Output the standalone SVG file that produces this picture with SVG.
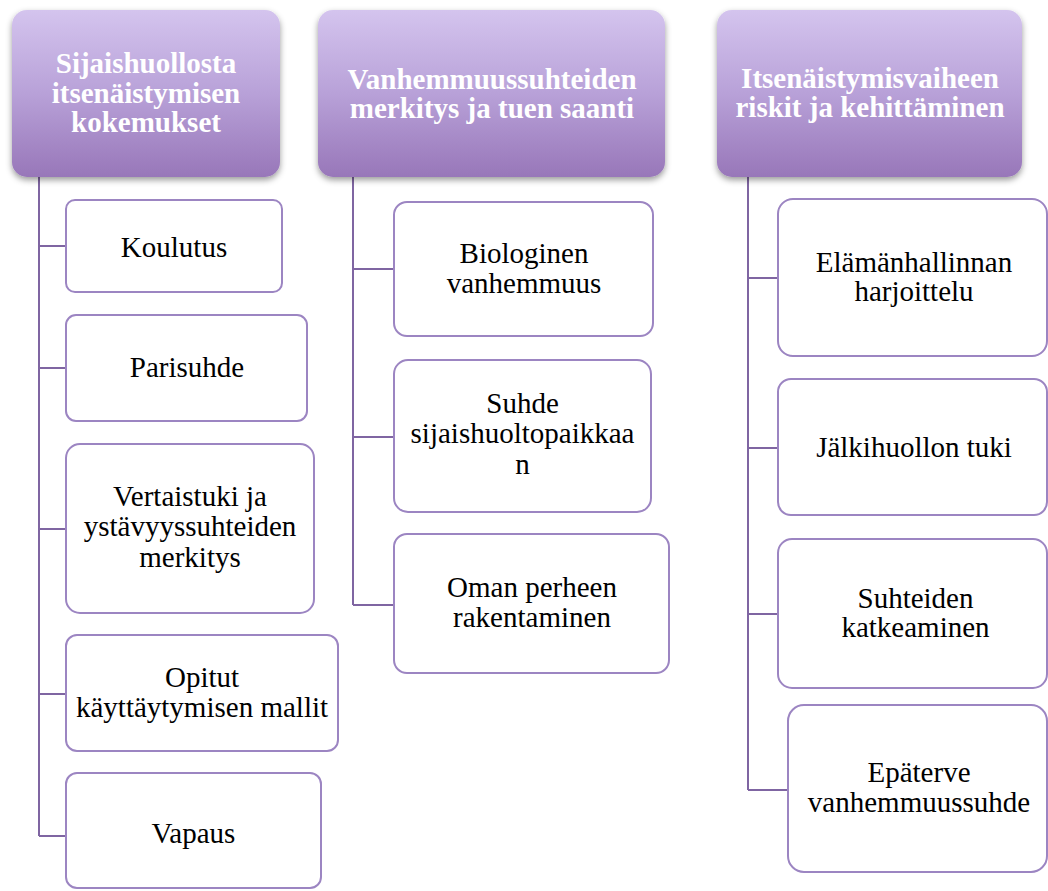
<svg xmlns="http://www.w3.org/2000/svg" width="1048" height="891" viewBox="0 0 1048 891">
<style>
.hdr{fill:url(#hg);filter:url(#sh)}
.ht{font-family:'Liberation Serif','Tinos','Times New Roman','DejaVu Serif',serif;font-weight:bold;font-size:29px;fill:#ffffff;text-anchor:middle}
.box{fill:#ffffff;stroke:#9C85C2;stroke-width:2}
.bt{font-family:'Liberation Serif','Tinos','Times New Roman','DejaVu Serif',serif;font-size:29px;fill:#000000;text-anchor:middle}
.con{fill:none;stroke:#7F65A2;stroke-width:2}
</style>
<defs>
<linearGradient id="hg" x1="0" y1="0" x2="0" y2="1">
<stop offset="0" stop-color="#D4C4EE"/>
<stop offset="0.5" stop-color="#B8A1D8"/>
<stop offset="1" stop-color="#9877B9"/>
</linearGradient>
<filter id="sh" x="-10%" y="-10%" width="120%" height="130%">
<feDropShadow dx="0" dy="3" stdDeviation="3" flood-color="#000000" flood-opacity="0.4"/>
</filter>
</defs>
<rect width="1048" height="891" fill="#ffffff"/>
<g id="connectors">
<path class="con" d="M39 177 V836 M39 246 H66 M39 368 H66 M39 529 H66 M39 694 H66 M39 836 H66"/>
<path class="con" d="M353 177 V605 M353 269 H394 M353 437 H394 M353 605 H394"/>
<path class="con" d="M748 177 V790 M748 278 H778 M748 448 H778 M748 614 H778 M748 790 H788"/>
</g>
<g id="h1">
<rect class="hdr" x="12" y="10" width="268" height="167" rx="15"/>
<text class="ht" x="146" y="73">Sijaishuollosta</text>
<text class="ht" x="146" y="102.5">itsenäistymisen</text>
<text class="ht" x="146" y="132">kokemukset</text>
</g>
<g id="h2">
<rect class="hdr" x="318" y="10" width="347" height="167" rx="15"/>
<text class="ht" x="492" y="89">Vanhemmuussuhteiden</text>
<text class="ht" x="492" y="118">merkitys ja tuen saanti</text>
</g>
<g id="h3">
<rect class="hdr" x="717" y="10" width="305" height="167" rx="15"/>
<text class="ht" x="870" y="88">Itsenäistymisvaiheen</text>
<text class="ht" x="870" y="117">riskit ja kehittäminen</text>
</g>
<g id="c1">
<rect class="box" x="66" y="200" width="216" height="92" rx="9"/>
<text class="bt" x="174" y="257">Koulutus</text>
</g>
<g id="c2">
<rect class="box" x="66" y="315" width="241" height="106" rx="10"/>
<text class="bt" x="187" y="377">Parisuhde</text>
</g>
<g id="c3">
<rect class="box" x="66" y="444" width="248" height="169" rx="14"/>
<text class="bt" x="190" y="506">Vertaistuki ja</text>
<text class="bt" x="190" y="536">ystävyyssuhteiden</text>
<text class="bt" x="190" y="567">merkitys</text>
</g>
<g id="c4">
<rect class="box" x="66" y="635" width="272" height="116" rx="11"/>
<text class="bt" x="202" y="687">Opitut</text>
<text class="bt" x="202" y="717">käyttäytymisen mallit</text>
</g>
<g id="c5">
<rect class="box" x="66" y="773" width="255" height="115" rx="11"/>
<text class="bt" x="193.5" y="843">Vapaus</text>
</g>
<g id="m1">
<rect class="box" x="394" y="202" width="259" height="134" rx="13"/>
<text class="bt" x="524" y="263">Biologinen</text>
<text class="bt" x="524" y="293">vanhemmuus</text>
</g>
<g id="m2">
<rect class="box" x="394" y="360" width="257" height="152" rx="14"/>
<text class="bt" x="522.5" y="413">Suhde</text>
<text class="bt" x="522.5" y="443">sijaishuoltopaikkaa</text>
<text class="bt" x="522.5" y="474">n</text>
</g>
<g id="m3">
<rect class="box" x="394" y="534" width="275" height="139" rx="13"/>
<text class="bt" x="532" y="597">Oman perheen</text>
<text class="bt" x="532" y="627">rakentaminen</text>
</g>
<g id="r1">
<rect class="box" x="778" y="199" width="269" height="157" rx="15"/>
<text class="bt" x="914" y="272">Elämänhallinnan</text>
<text class="bt" x="914" y="301">harjoittelu</text>
</g>
<g id="r2">
<rect class="box" x="778" y="379" width="269" height="136" rx="13"/>
<text class="bt" x="914" y="457">Jälkihuollon tuki</text>
</g>
<g id="r3">
<rect class="box" x="778" y="539" width="269" height="149" rx="14"/>
<text class="bt" x="915.5" y="608">Suhteiden</text>
<text class="bt" x="915.5" y="637">katkeaminen</text>
</g>
<g id="r4">
<rect class="box" x="788" y="705" width="259" height="167" rx="16"/>
<text class="bt" x="919" y="782">Epäterve</text>
<text class="bt" x="919" y="812">vanhemmuussuhde</text>
</g>
</svg>
